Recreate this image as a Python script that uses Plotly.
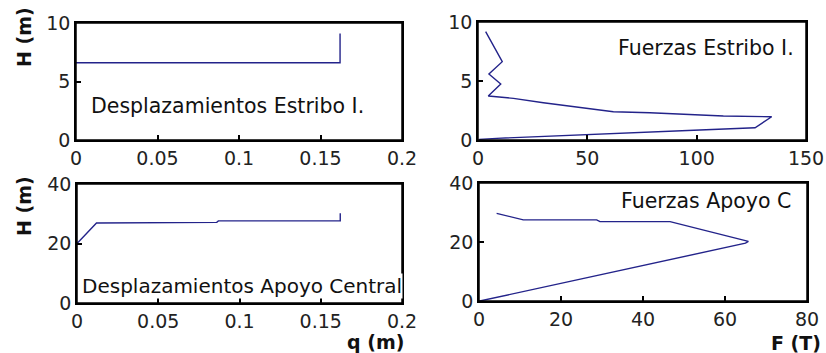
import plotly.graph_objects as go

# Abutment displacement profile
disp_estribo_q = [0.0, 0.162, 0.162]
disp_estribo_h = [6.6, 6.6, 9.1]

# Abutment force profile
fuerza_estribo_f = [3.5, 11.1, 5.0, 10.4, 4.7, 16.2, 29.9, 51.2, 61.9, 78.6, 93.9,
                    112.2, 134.3, 126.7, 101.5, 81.7, 61.9, 45.1, 26.8, 8.5, 0.5]
fuerza_estribo_h = [9.18, 6.64, 5.59, 4.75, 3.73, 3.53, 3.16, 2.68, 2.40, 2.31, 2.20,
                    2.03, 1.97, 1.04, 0.85, 0.71, 0.57, 0.42, 0.28, 0.14, 0.05]

# Central support displacement profile
disp_apoyo_q = [0.0, 0.012, 0.086, 0.087, 0.162, 0.162]
disp_apoyo_h = [20.0, 26.9, 27.1, 27.6, 27.6, 30.2]

# Central support force profile
fuerza_apoyo_f = [4.3, 10.8, 28.7, 29.5, 46.6, 65.7, 65.0, 0.2]
fuerza_apoyo_h = [29.7, 27.5, 27.5, 26.9, 26.9, 20.2, 19.6, 0.0]

x_ticks_q = [0, 0.05, 0.1, 0.15, 0.2]
x_ticks_fe = [0, 50, 100, 150]
x_ticks_fa = [0, 20, 40, 60, 80]
y_ticks_top = [0, 5, 10]
y_ticks_bot = [0, 20, 40]

W, H = 826, 353
LINE = "#23238a"
FONT = "DejaVu Sans"


def px_x(p):
    return p / W


def px_y(p):
    return 1 - p / H


fig = go.Figure()
series = [
    (disp_estribo_q, disp_estribo_h, "x", "y"),
    (fuerza_estribo_f, fuerza_estribo_h, "x2", "y2"),
    (disp_apoyo_q, disp_apoyo_h, "x3", "y3"),
    (fuerza_apoyo_f, fuerza_apoyo_h, "x4", "y4"),
]
for xs, ys, xa, ya in series:
    fig.add_trace(go.Scatter(x=xs, y=ys, xaxis=xa, yaxis=ya, mode="lines",
                             line=dict(color=LINE, width=1.4), showlegend=False))

axis_common = dict(showline=True, linecolor="black", linewidth=1.5, mirror=True,
                   ticks="inside", ticklen=5, tickwidth=1.5, tickcolor="black",
                   showgrid=False, zeroline=False, automargin=False,
                   tickfont=dict(family=FONT, size=19, color="#222"))

domains = {
    "1": ((76, 402), (23, 140), [0, 0.2], x_ticks_q, [0, 10], y_ticks_top),
    "2": ((478, 806), (22, 140), [0, 150], x_ticks_fe, [0, 10], y_ticks_top),
    "3": ((77, 402), (184, 303), [0, 0.2], x_ticks_q, [0, 40], y_ticks_bot),
    "4": ((479, 807), (183, 301), [0, 80], x_ticks_fa, [0, 40], y_ticks_bot),
}
layout = {}
shapes = []
for k, ((x0, x1), (y0, y1), xr, xt, yr, yt) in domains.items():
    suffix = "" if k == "1" else k
    layout["xaxis" + suffix] = dict(axis_common, domain=[px_x(x0), px_x(x1)], range=xr,
                                    tickvals=xt, ticktext=[f"{v:g}" for v in xt],
                                    anchor="y" + suffix)
    layout["yaxis" + suffix] = dict(axis_common, domain=[px_y(y1), px_y(y0)], range=yr,
                                    tickvals=yt, ticktext=[f"{v:g}" for v in yt],
                                    anchor="x" + suffix)
    # closed box around each panel
    shapes.append(dict(type="rect", xref="paper", yref="paper",
                       x0=px_x(x0), x1=px_x(x1), y0=px_y(y1), y1=px_y(y0),
                       line=dict(color="black", width=1.5), fillcolor="rgba(0,0,0,0)",
                       layer="above"))

fig.update_layout(width=W, height=H, margin=dict(l=0, r=0, t=0, b=0, autoexpand=False),
                  paper_bgcolor="white", plot_bgcolor="white", shapes=shapes, **layout)

txt = dict(family=FONT, size=20.5, color="#111")
bold = dict(family=FONT, size=19, color="#111", weight="bold")
annotations = [
    dict(text="Desplazamientos Estribo I.", x=px_x(90), y=px_y(106), xanchor="left",
         yanchor="middle", font=txt),
    dict(text="Fuerzas Estribo I.", x=px_x(795), y=px_y(48), xanchor="right",
         yanchor="middle", font=txt),
    dict(text="Desplazamientos Apoyo Central", x=px_x(81), y=px_y(286), xanchor="left",
         yanchor="middle", font=dict(txt, size=20), bgcolor="white"),
    dict(text="Fuerzas Apoyo C", x=px_x(792), y=px_y(201), xanchor="right",
         yanchor="middle", font=txt),
    dict(text="H (m)", x=px_x(24), y=px_y(37), textangle=-90, xanchor="center",
         yanchor="middle", font=bold),
    dict(text="H (m)", x=px_x(24), y=px_y(206), textangle=-90, xanchor="center",
         yanchor="middle", font=bold),
    dict(text="q (m)", x=px_x(405), y=px_y(342), xanchor="right", yanchor="middle",
         font=bold),
    dict(text="F (T)", x=px_x(822), y=px_y(343), xanchor="right", yanchor="middle",
         font=bold),
]
for a in annotations:
    a.update(xref="paper", yref="paper", showarrow=False, borderpad=0)
fig.update_layout(annotations=annotations)

fig.write_html("out.html")
